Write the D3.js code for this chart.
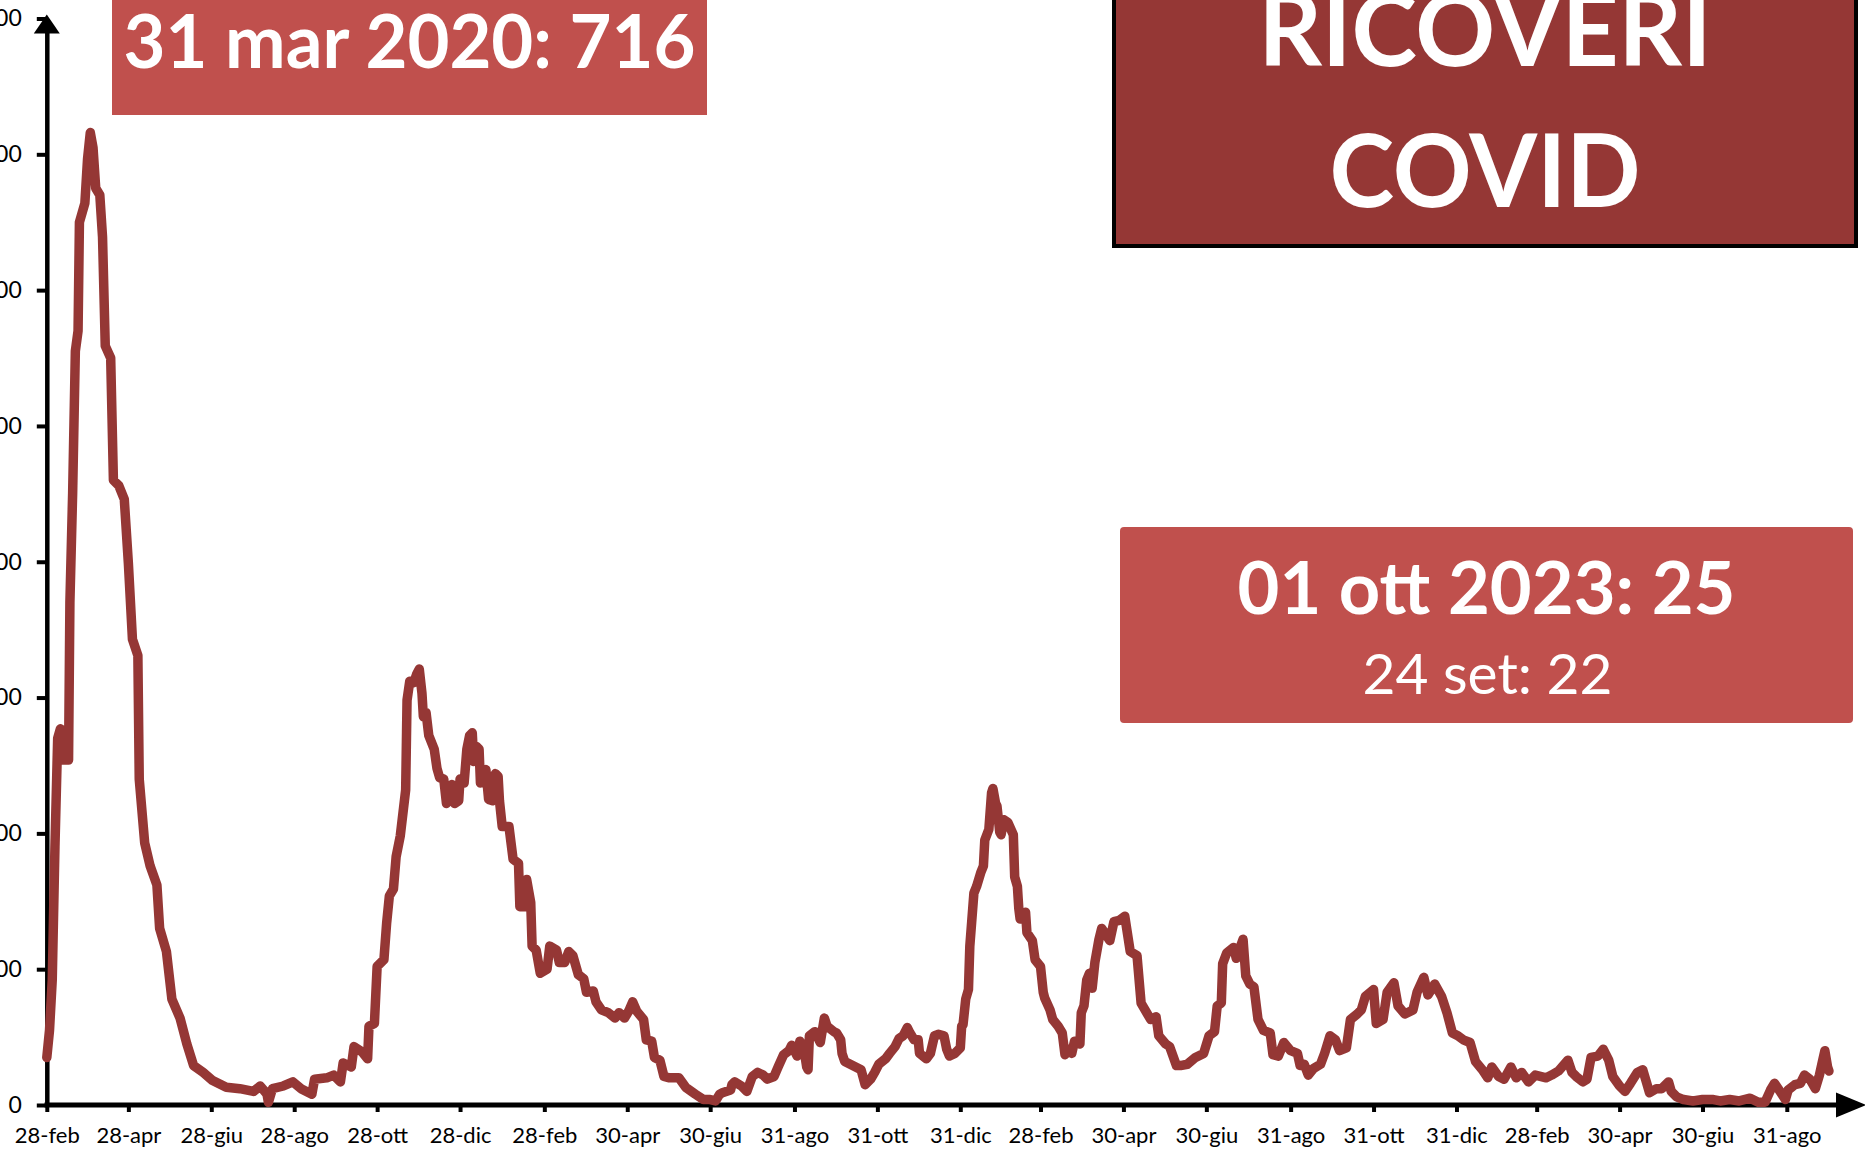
<!DOCTYPE html>
<html><head><meta charset="utf-8">
<script src="https://cdn.jsdelivr.net/npm/d3@7"></script>
<style>html,body{margin:0;padding:0;background:#fff;overflow:hidden}svg{display:block}</style>
</head><body>
<svg id="chart" width="1865" height="1152"></svg>
<script>
// ---- data ----
const dates = [
"2020-02-28","2020-03-01","2020-03-03","2020-03-05","2020-03-07","2020-03-09","2020-03-10","2020-03-15","2020-03-16","2020-03-18",
"2020-03-20","2020-03-22","2020-03-23","2020-03-27","2020-03-29","2020-03-31","2020-04-02","2020-04-04","2020-04-07","2020-04-09",
"2020-04-11","2020-04-15","2020-04-17","2020-04-21","2020-04-25","2020-04-28","2020-05-01","2020-05-05","2020-05-06","2020-05-10",
"2020-05-14","2020-05-19","2020-05-21","2020-05-26","2020-05-30","2020-06-05","2020-06-10","2020-06-15","2020-06-22","2020-06-29",
"2020-07-09","2020-07-19","2020-07-29","2020-08-03","2020-08-08","2020-08-09","2020-08-12","2020-08-20","2020-08-27","2020-09-02",
"2020-09-10","2020-09-12","2020-09-21","2020-09-26","2020-10-01","2020-10-03","2020-10-09","2020-10-11","2020-10-17","2020-10-21",
"2020-10-22","2020-10-26","2020-10-28","2020-11-02","2020-11-04","2020-11-06","2020-11-09","2020-11-11","2020-11-14","2020-11-18",
"2020-11-19","2020-11-21","2020-11-24","2020-11-26","2020-11-28","2020-11-30","2020-12-01","2020-12-03","2020-12-05","2020-12-09",
"2020-12-11","2020-12-13","2020-12-16","2020-12-18","2020-12-21","2020-12-22","2020-12-24","2020-12-27","2020-12-28","2020-12-31",
"2021-01-02","2021-01-04","2021-01-06","2021-01-07","2021-01-09","2021-01-11","2021-01-12","2021-01-14","2021-01-16","2021-01-18",
"2021-01-21","2021-01-23","2021-01-25","2021-01-26","2021-01-28","2021-02-02","2021-02-05","2021-02-09","2021-02-10","2021-02-14",
"2021-02-15","2021-02-18","2021-02-19","2021-02-22","2021-02-25","2021-03-02","2021-03-04","2021-03-09","2021-03-11","2021-03-15",
"2021-03-18","2021-03-21","2021-03-25","2021-03-29","2021-03-31","2021-04-05","2021-04-07","2021-04-11","2021-04-16","2021-04-21",
"2021-04-24","2021-04-28","2021-05-01","2021-05-04","2021-05-07","2021-05-12","2021-05-14","2021-05-18","2021-05-20","2021-05-24",
"2021-05-27","2021-05-31","2021-06-07","2021-06-12","2021-06-19","2021-06-25","2021-06-30","2021-07-04","2021-07-07","2021-07-09",
"2021-07-15","2021-07-16","2021-07-18","2021-07-23","2021-07-27","2021-07-31","2021-08-04","2021-08-08","2021-08-11","2021-08-16",
"2021-08-19","2021-08-23","2021-08-27","2021-08-29","2021-09-02","2021-09-04","2021-09-07","2021-09-09","2021-09-10","2021-09-11",
"2021-09-15","2021-09-19","2021-09-22","2021-09-24","2021-09-29","2021-10-01","2021-10-04","2021-10-05","2021-10-07","2021-10-11",
"2021-10-15","2021-10-19","2021-10-22","2021-10-26","2021-10-29","2021-11-01","2021-11-06","2021-11-09","2021-11-13","2021-11-16",
"2021-11-19","2021-11-22","2021-11-24","2021-11-27","2021-11-30","2021-12-01","2021-12-06","2021-12-09","2021-12-12","2021-12-15",
"2021-12-19","2021-12-21","2021-12-23","2021-12-27","2021-12-31","2022-01-01","2022-01-02","2022-01-04","2022-01-06","2022-01-07",
"2022-01-10","2022-01-12","2022-01-15","2022-01-17","2022-01-18","2022-01-21","2022-01-23","2022-01-24","2022-01-26","2022-01-27",
"2022-01-29","2022-01-30","2022-02-01","2022-02-04","2022-02-08","2022-02-09","2022-02-11","2022-02-12","2022-02-13","2022-02-17",
"2022-02-18","2022-02-22","2022-02-24","2022-02-28","2022-03-02","2022-03-03","2022-03-07","2022-03-09","2022-03-13","2022-03-16",
"2022-03-18","2022-03-21","2022-03-23","2022-03-25","2022-03-29","2022-03-30","2022-04-01","2022-04-03","2022-04-05","2022-04-07",
"2022-04-09","2022-04-12","2022-04-14","2022-04-20","2022-04-23","2022-04-27","2022-05-01","2022-05-05","2022-05-10","2022-05-13",
"2022-05-20","2022-05-24","2022-05-26","2022-05-31","2022-06-03","2022-06-08","2022-06-11","2022-06-16","2022-06-22","2022-06-28",
"2022-07-02","2022-07-06","2022-07-08","2022-07-11","2022-07-12","2022-07-15","2022-07-20","2022-07-22","2022-07-27","2022-07-29",
"2022-08-01","2022-08-04","2022-08-07","2022-08-11","2022-08-16","2022-08-18","2022-08-22","2022-08-26","2022-08-31","2022-09-05",
"2022-09-07","2022-09-10","2022-09-13","2022-09-17","2022-09-22","2022-09-25","2022-09-29","2022-10-03","2022-10-06","2022-10-11",
"2022-10-14","2022-10-19","2022-10-22","2022-10-25","2022-10-31","2022-11-02","2022-11-07","2022-11-10","2022-11-15","2022-11-18",
"2022-11-23","2022-11-29","2022-12-02","2022-12-07","2022-12-10","2022-12-15","2022-12-20","2022-12-24","2022-12-28","2023-01-01",
"2023-01-05","2023-01-10","2023-01-14","2023-01-19","2023-01-23","2023-01-26","2023-01-31","2023-02-04","2023-02-09","2023-02-13",
"2023-02-17","2023-02-22","2023-02-27","2023-03-07","2023-03-11","2023-03-16","2023-03-23","2023-03-26","2023-03-29","2023-04-03",
"2023-04-06","2023-04-09","2023-04-14","2023-04-18","2023-04-22","2023-04-25","2023-04-30","2023-05-04","2023-05-08","2023-05-13",
"2023-05-17","2023-05-20","2023-05-22","2023-05-27","2023-05-31","2023-06-05","2023-06-07","2023-06-11","2023-06-16","2023-06-23",
"2023-06-30","2023-07-08","2023-07-13","2023-07-20","2023-07-27","2023-08-04","2023-08-10","2023-08-15","2023-08-19","2023-08-22",
"2023-08-26","2023-08-30","2023-09-01","2023-09-06","2023-09-10","2023-09-13","2023-09-17","2023-09-21","2023-09-24","2023-09-26",
"2023-09-28","2023-09-30","2023-10-01"
];
const ricoveri = [
35,55,92,190,270,277,254,254,370,450,
555,570,650,664,697,716,705,675,670,639,
559,550,460,456,446,399,343,331,240,193,
176,162,130,113,78,64,45,29,24,18,
13,12,10,14,8,2,12,14,17,12,
8,19,20,22,17,31,28,43,39,34,
58,60,102,107,134,154,159,183,198,232,
298,312,311,317,321,303,286,289,272,262,
248,241,240,222,232,236,222,224,240,237,
262,272,274,253,264,262,237,242,247,225,
224,244,242,224,205,205,181,178,146,146,
166,149,117,114,97,100,117,114,105,105,
113,110,96,93,83,84,76,70,68,64,
68,64,69,76,69,63,48,47,35,33,
21,20,20,13,8,4,4,3,8,9,
11,15,17,14,10,21,24,22,19,21,
28,37,40,44,36,47,41,28,26,51,
54,46,64,58,54,53,48,38,32,30,
28,26,15,19,24,30,34,38,43,49,
51,57,53,48,48,38,34,38,51,52,
51,41,36,38,42,58,59,78,85,117,
156,161,171,176,195,203,230,233,222,220,
201,199,210,208,199,168,161,145,137,142,
127,121,107,102,83,79,70,63,58,53,
37,41,38,47,45,68,73,92,97,86,
105,122,130,121,135,136,139,113,110,75,
63,65,51,45,43,29,29,30,35,38,
51,54,73,75,104,112,116,108,122,95,
89,87,63,55,53,37,36,46,40,38,
29,30,22,27,30,38,51,48,40,42,
63,67,70,80,85,60,63,83,90,73,
67,70,83,94,81,89,80,68,53,51,
48,46,32,26,20,28,21,19,28,20,
24,17,22,20,22,25,33,24,21,17,
19,35,36,41,33,21,14,10,16,24,
26,16,9,12,12,17,10,6,4,3,
4,4,3,4,3,5,2,2,11,16,
10,4,11,15,16,22,19,12,22,31,
40,28,25
];
const tickDates = ["2020-02-28","2020-04-28","2020-06-28","2020-08-28","2020-10-28","2020-12-28","2021-02-28","2021-04-30","2021-06-30","2021-08-31","2021-10-31","2021-12-31","2022-02-28","2022-04-30","2022-06-30","2022-08-31","2022-10-31","2022-12-31","2023-02-28","2023-04-30","2023-06-30","2023-08-31"];
const tickLabels = ["28-feb","28-apr","28-giu","28-ago","28-ott","28-dic","28-feb","30-apr","30-giu","31-ago","31-ott","31-dic","28-feb","30-apr","30-giu","31-ago","31-ott","31-dic","28-feb","30-apr","30-giu","31-ago"];
const yTicks = [0,100,200,300,400,500,600,700,800];
const titleLines = ["RICOVERI","COVID"];
const peakLabel = "31 mar 2020: 716";
const lastLabel = "01 ott 2023: 25";
const prevLabel = "24 set: 22";

// ---- drawing ----
const FONT = "Lato, 'Open Sans', sans-serif";
const LINE = "#953735", BOX = "#C0504D";
const svg = d3.select("#chart");
const parse = d3.utcParse("%Y-%m-%d");
const series = dates.map((d,i)=>({date:parse(d), v:ricoveri[i]}));

const x = d3.scaleUtc().domain([parse("2020-02-28"), parse("2023-08-31")]).range([46.8, 1786.8]);
const y = d3.scaleLinear().domain([0,800]).range([1105, 18.5]);
const x0 = x.range()[0], y0 = y(0);

// y axis
const gY = svg.append("g").attr("transform",`translate(${x0},0)`)
  .call(d3.axisLeft(y).tickValues(yTicks).tickSize(10).tickSizeOuter(0).tickPadding(15).tickFormat(d3.format("d")));
gY.select(".domain").attr("stroke","#000").attr("stroke-width",4.5);
gY.selectAll(".tick line").attr("stroke","#000").attr("stroke-width",4);
gY.selectAll(".tick text").attr("font-family",FONT).attr("font-size",23).attr("fill","#000");
svg.append("path").attr("fill","#000")
  .attr("d",`M${x0},${y(800)-4}L${x0-13},${y(800)+15}L${x0+13},${y(800)+15}Z`);

// x axis
const gX = svg.append("g").attr("transform",`translate(0,${y0})`)
  .call(d3.axisBottom(x).tickValues(tickDates.map(parse)).tickFormat((d,i)=>tickLabels[i]).tickSize(7).tickSizeOuter(0).tickPadding(15));
gX.select(".domain").remove();
gX.selectAll(".tick line").attr("stroke","#000").attr("stroke-width",4);
gX.selectAll(".tick text").attr("font-family",FONT).attr("font-size",22).attr("fill","#000");
svg.append("line").attr("x1",x0-2.3).attr("x2",1842).attr("y1",y0).attr("y2",y0).attr("stroke","#000").attr("stroke-width",5);
svg.append("path").attr("fill","#000").attr("d",`M1866,${y0}L1836,${y0-12.5}L1836,${y0+12.5}Z`);

// line
svg.append("path").datum(series)
  .attr("fill","none").attr("stroke",LINE).attr("stroke-width",9.5)
  .attr("stroke-linejoin","round").attr("stroke-linecap","round")
  .attr("d", d3.line().x(d=>x(d.date)).y(d=>y(d.v)));

// peak label box
svg.append("rect").attr("x",112).attr("y",-5).attr("width",595).attr("height",120).attr("fill",BOX);
svg.append("text").attr("x",409.5).attr("y",68).attr("text-anchor","middle")
  .attr("font-family",FONT).attr("font-weight","bold").attr("font-size",75).attr("fill","#fff")
  .attr("textLength",572).attr("lengthAdjust","spacingAndGlyphs").text(peakLabel);

// title box
svg.append("rect").attr("x",1114).attr("y",-10).attr("width",742).attr("height",256)
  .attr("fill",LINE).attr("stroke","#000").attr("stroke-width",4);
const tl = [[66,453],[207,311]];
titleLines.forEach((t,i)=>{
  svg.append("text").attr("x",1485).attr("y",tl[i][0]).attr("text-anchor","middle")
    .attr("font-family",FONT).attr("font-weight","bold").attr("font-size",102).attr("fill","#fff")
    .attr("textLength",tl[i][1]).attr("lengthAdjust","spacingAndGlyphs").text(t);
});

// last value box
svg.append("rect").attr("x",1120).attr("y",527).attr("width",733).attr("height",196).attr("rx",4).attr("fill",BOX);
svg.append("text").attr("x",1486.5).attr("y",614).attr("text-anchor","middle")
  .attr("font-family",FONT).attr("font-weight","bold").attr("font-size",72).attr("fill","#fff")
  .attr("textLength",498).attr("lengthAdjust","spacingAndGlyphs").text(lastLabel);
svg.append("text").attr("x",1487.5).attr("y",694).attr("text-anchor","middle")
  .attr("font-family",FONT).attr("font-size",57).attr("fill","#fff")
  .attr("textLength",250).attr("lengthAdjust","spacingAndGlyphs").text(prevLabel);
</script>
</body></html>
